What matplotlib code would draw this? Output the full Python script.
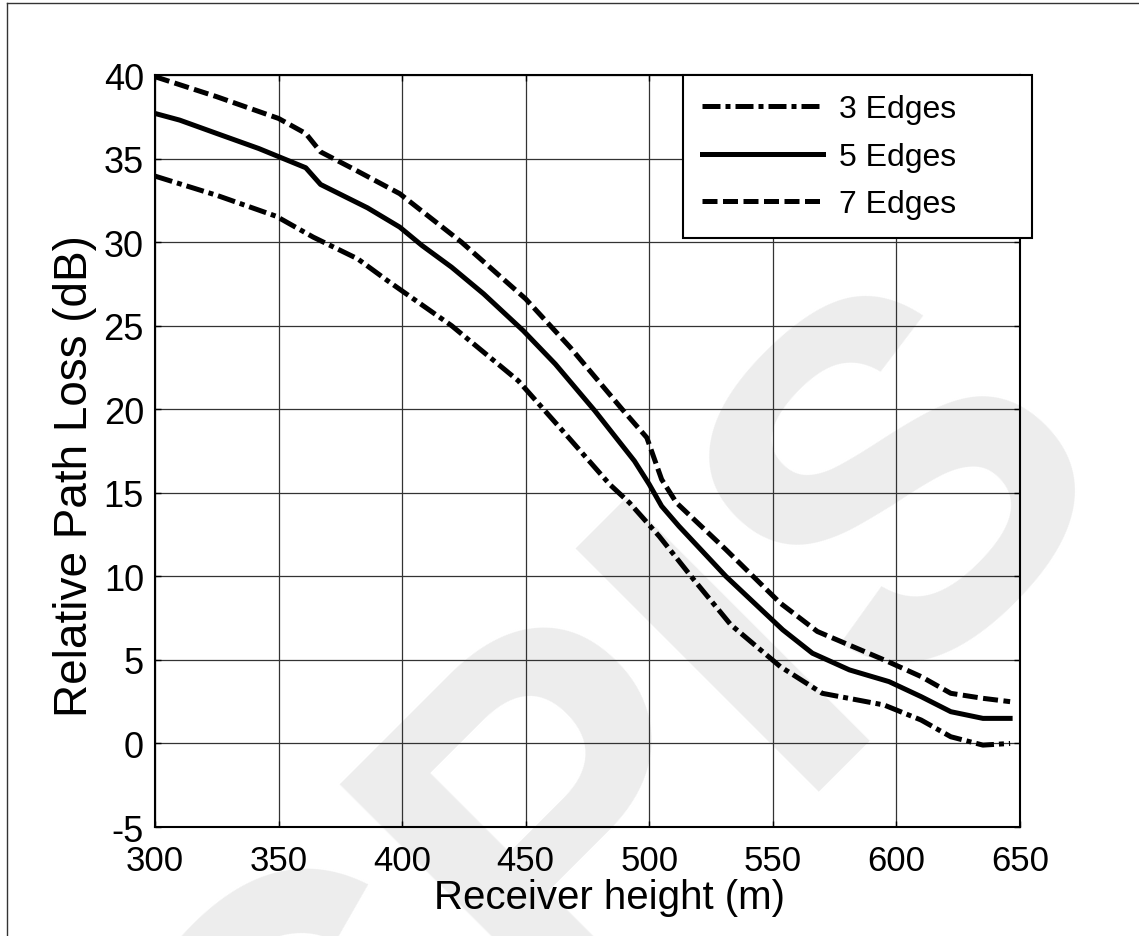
import numpy as np
import matplotlib
matplotlib.use('Agg')
import matplotlib.pyplot as plt
from matplotlib.lines import Line2D

# curves
x_3 = [300, 325, 349, 364, 382, 394, 420, 447, 465, 484, 492, 504, 518, 533, 553, 570, 595, 610, 622, 635, 646]
y_3 = [33.95, 32.8, 31.55, 30.3, 29.0, 27.7, 25.0, 21.7, 18.7, 15.5, 14.4, 12.4, 9.8, 7.1, 4.6, 3.0, 2.3, 1.4, 0.4, -0.1, 0.0]

x_5 = [300, 310, 325, 342, 361, 367, 386, 399, 408, 420, 433, 449, 462, 478, 494, 500, 505, 512, 531, 554, 566, 581, 597, 610, 622, 635, 646]
y_5 = [37.7, 37.3, 36.5, 35.6, 34.45, 33.45, 32.05, 30.9, 29.8, 28.5, 26.9, 24.7, 22.7, 19.9, 16.9, 15.5, 14.2, 13.0, 10.0, 6.8, 5.4, 4.4, 3.7, 2.8, 1.9, 1.5, 1.5]

x_7 = [300, 325, 350, 361, 367, 380, 399, 424, 450, 468, 489, 499, 505, 511, 531, 553, 568, 595, 610, 622, 635, 646]
y_7 = [39.9, 38.7, 37.4, 36.5, 35.4, 34.4, 32.9, 30.0, 26.6, 23.7, 20.0, 18.3, 15.8, 14.4, 11.6, 8.4, 6.7, 5.0, 4.0, 3.0, 2.7, 2.5]

labels = ['3 Edges', '5 Edges', '7 Edges']
xticks = [300, 350, 400, 450, 500, 550, 600, 650]
yticks = [-5, 0, 5, 10, 15, 20, 25, 30, 35, 40]

plt.rcParams['font.family'] = ['Liberation Sans', 'DejaVu Sans']
plt.rcParams['axes.unicode_minus'] = False

fig = plt.figure(figsize=(11.39, 9.37), dpi=100)
ax = fig.add_axes([155/1139., 1-828/937., 865/1139., 752/937.])
ax.set_facecolor('none')

# faint watermark behind everything
fig.text(0.545, 0.16, 'CPIS', rotation=45, ha='center', va='center', fontsize=360,
         fontweight='bold', color='#ededed', zorder=-5)

# figure frame (only top and left edges visible)
fig.add_artist(Line2D([7/1139., 7/1139.], [0, 1-4/937.], transform=fig.transFigure, color='#333333', lw=1.0))
fig.add_artist(Line2D([7/1139., 1], [1-4/937., 1-4/937.], transform=fig.transFigure, color='#333333', lw=1.0))

lw = 3.6
l3, = ax.plot(x_3, y_3, color='k', lw=lw, dashes=(3.6, 1.0, 1.0, 1.0), dash_capstyle='butt', label=labels[0])
l5, = ax.plot(x_5, y_5, color='k', lw=lw, label=labels[1])
l7, = ax.plot(x_7, y_7, color='k', lw=lw, dashes=(3.0, 1.1), dash_capstyle='butt', label=labels[2])

ax.set_xlim(300, 650)
ax.set_ylim(-5, 40)
ax.set_xticks(xticks)
ax.set_yticks(yticks)
ax.grid(True, color='#333333', lw=0.9)
ax.tick_params(direction='in', length=4, width=1, top=True, right=True, labelsize=26)
ax.tick_params(axis='x', pad=12, labelsize=25)
ax.tick_params(axis='y', pad=8)
for s in ax.spines.values():
  s.set_linewidth(1.5)

ax.set_xlabel('Receiver height (m)', fontsize=29, va='center')
ax.xaxis.set_label_coords(0.526, -0.093)
ax.set_ylabel('Relative Path Loss (dB)', fontsize=33, va='center')
ax.yaxis.set_label_coords(-0.0925, 0.468)

leg = ax.legend(loc='upper left', bbox_to_anchor=(0.61, 1.0, 0.404, 0.0), mode='expand',
                fontsize=23, handlelength=3.8, handletextpad=0.5, labelspacing=0.55,
                borderpad=0.6, borderaxespad=0, fancybox=False, framealpha=1, edgecolor='k')
leg.get_frame().set_linewidth(1.5)

plt.savefig('out.png', dpi=100)
